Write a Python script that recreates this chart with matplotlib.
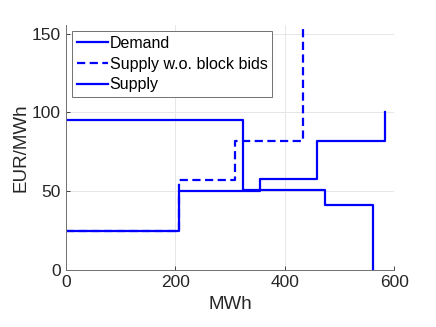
import matplotlib
matplotlib.use("Agg")
import matplotlib.pyplot as plt

plt.rcParams["font.family"] = ["Liberation Sans", "DejaVu Sans"]

# step curves: quantity breakpoints (MWh) and price levels (EUR/MWh)
demand_q = [0, 323, 473, 562]
demand_p = [95, 51, 41, 0]

supply_nb_q = [0, 206, 310, 434]
supply_nb_p = [25, 57, 82, 170]

supply_q = [0, 206, 355, 459, 584]
supply_p = [25, 50, 58, 82, 100]

xticks = [0, 200, 400, 600]
yticks = [0, 50, 100, 150]

fig = plt.figure(figsize=(4.36, 3.27), dpi=100)
ax = fig.add_axes([0.151, 0.174, 0.753, 0.750])

blue = (0, 0, 1)
ax.step(demand_q, demand_p, where="post", color=blue, lw=1.6, label="Demand")
ax.step(supply_nb_q, supply_nb_p, where="post", color=blue, lw=1.6,
        ls=(0, (3.7, 2.0)), label="Supply w.o. block bids")
ax.step(supply_q, supply_p, where="post", color=blue, lw=1.6, label="Supply")

ax.set_xlim(0, 600)
ax.set_ylim(0, 155.5)
ax.set_xticks(xticks)
ax.set_yticks(yticks)
ax.tick_params(direction="in", length=3, labelsize=12.5, colors="#262626",
               width=0.6)
ax.grid(color="#e6e6e6", lw=0.7)
ax.set_axisbelow(True)
for s in ["top", "right"]:
    ax.spines[s].set_visible(False)
for s in ["left", "bottom"]:
    ax.spines[s].set_color("#707070")
    ax.spines[s].set_linewidth(0.7)

ax.set_xlabel("MWh", fontsize=13.5, color="#262626", labelpad=4)
ax.set_ylabel("EUR/MWh", fontsize=13.5, color="#262626", labelpad=2)

leg = ax.legend(loc="upper left", fontsize=11.5, frameon=True, fancybox=False,
                edgecolor="#707070", handlelength=1.95, handletextpad=0.1,
                borderpad=0.3, labelspacing=0.35, borderaxespad=0.4)
leg.get_frame().set_linewidth(0.7)
leg.get_frame().set_alpha(1)

fig.savefig("out.png", dpi=100)
